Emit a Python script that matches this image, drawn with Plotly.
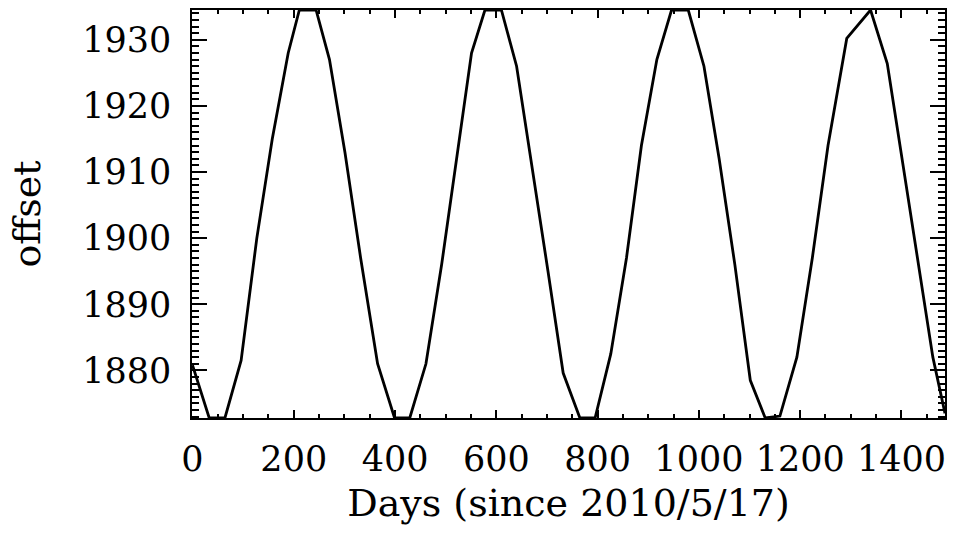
import plotly.graph_objects as go

days = [0, 33, 64, 96, 127, 157.5, 189, 211, 244, 270.5, 301, 332, 365.5, 399, 429,
        461, 492, 523, 551, 577.5, 610, 640, 670.5, 702, 732, 765, 795, 826, 857,
        886.5, 917, 946, 979, 1010, 1040, 1071, 1101.5, 1131, 1160, 1193.5, 1224,
        1255, 1292, 1339, 1372, 1403.5, 1432, 1462, 1486]
offset = [1880.8, 1872.8, 1872.8, 1881.5, 1900.0, 1915.0, 1928.0, 1934.5, 1934.5,
          1927.0, 1913.0, 1897.0, 1881.0, 1872.8, 1872.8,
          1881.0, 1896.0, 1913.0, 1928.0, 1934.5, 1934.5, 1926.0, 1911.0, 1895.0,
          1879.6, 1872.8, 1872.8, 1882.5, 1897.0, 1914.0, 1927.0, 1934.5, 1934.5,
          1926.0, 1912.0, 1896.0, 1878.5, 1872.8, 1873.1, 1882.0, 1897.0, 1914.0,
          1930.2, 1934.5, 1926.4, 1911.0, 1897.0, 1882.0, 1873.5]

x_ticks = [0, 200, 400, 600, 800, 1000, 1200, 1400]
y_ticks = [1880, 1890, 1900, 1910, 1920, 1930]

FONT = "DejaVu Serif"

fig = go.Figure()
fig.add_trace(go.Scatter(x=days, y=offset, mode="lines",
                         line=dict(color="black", width=2.8), showlegend=False))

fig.update_layout(
    width=963, height=534,
    margin=dict(l=192, r=18, t=8, b=116),
    paper_bgcolor="white", plot_bgcolor="white",
    font=dict(family=FONT, color="black", size=35),
)
fig.update_xaxes(
    range=[-1, 1486], tickvals=x_ticks, ticktext=[str(v) for v in x_ticks],
    showgrid=False, zeroline=False,
    showline=True, linecolor="black", linewidth=1.5, mirror="ticks",
    ticks="inside", ticklen=8, tickwidth=1.5, tickcolor="black",
    minor=dict(dtick=50, tick0=0, ticks="inside", ticklen=4, tickwidth=1.5,
               tickcolor="black", showgrid=False),
    tickfont=dict(family=FONT, size=35), ticklabelstandoff=9,
    title=dict(text="Days (since 2010/5/17)", font=dict(family=FONT, size=38), standoff=12),
)
fig.update_yaxes(
    range=[1872.8, 1934.5], tickvals=y_ticks, ticktext=[str(v) for v in y_ticks],
    showgrid=False, zeroline=False,
    showline=True, linecolor="black", linewidth=1.5, mirror="ticks",
    ticks="inside", ticklen=15, tickwidth=1.5, tickcolor="black",
    minor=dict(dtick=1, tick0=1880, ticks="inside", ticklen=7, tickwidth=1.5,
               tickcolor="black", showgrid=False),
    tickfont=dict(family=FONT, size=35), ticklabelstandoff=12,
    title=dict(text="offset", font=dict(family=FONT, size=38), standoff=30),
)

fig.write_html("out.html")
